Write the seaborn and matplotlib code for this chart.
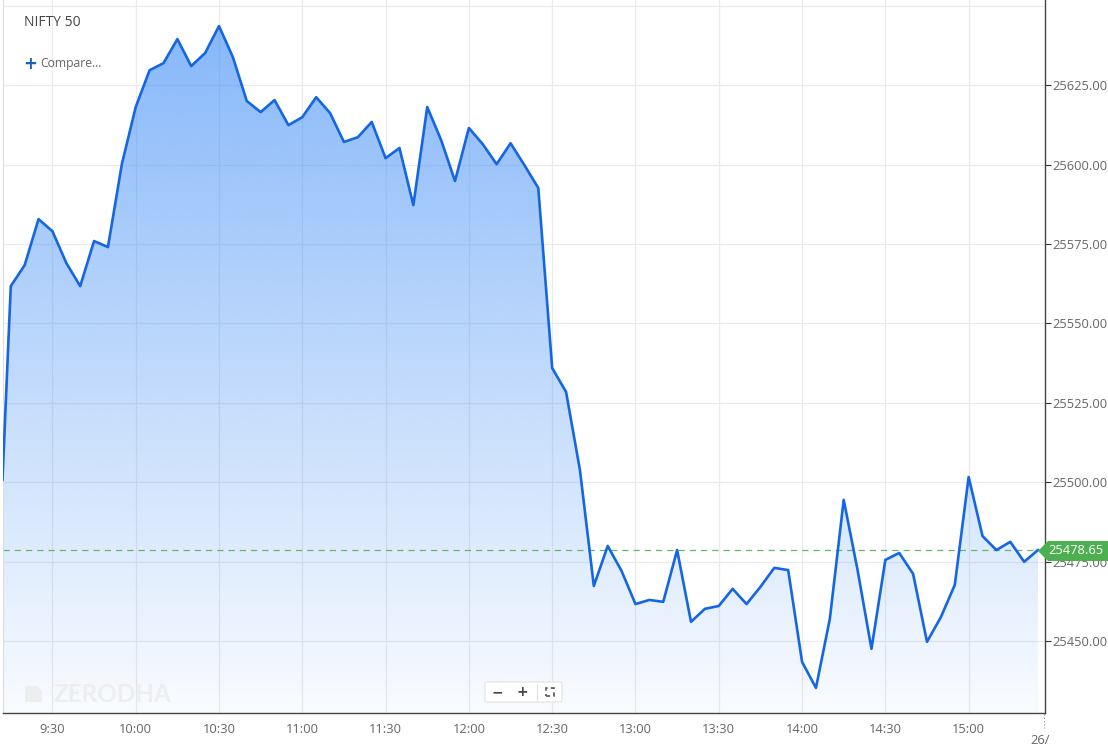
import numpy as np
import pandas as pd
import seaborn as sns
import matplotlib.pyplot as plt
from matplotlib.patches import Polygon, FancyBboxPatch

# NIFTY 50 intraday, 5-minute closes (first point = previous close, shown just before 9:15)
minutes = [-3] + list(range(0, 375, 5))  # minutes after 9:15
prices = [
    25500.5,
    25561.7, 25568.3, 25582.8, 25579.0, 25569.0, 25561.7, 25575.9, 25574.0, 25600.1, 25618.1,
    25629.7, 25631.9, 25639.5, 25631.0, 25635.1, 25643.6, 25633.8, 25620.0, 25616.5, 25620.3,
    25612.4, 25614.9, 25621.2, 25616.2, 25607.1, 25608.6, 25613.4, 25602.0, 25605.2, 25587.2,
    25618.1, 25607.7, 25594.8, 25611.5, 25606.4, 25600.1, 25606.7, 25599.8, 25592.6, 25535.9,
    25528.4, 25503.8, 25467.3, 25479.9, 25472.0, 25461.6, 25462.9, 25462.3, 25478.6, 25456.0,
    25460.1, 25461.0, 25466.4, 25461.6, 25467.0, 25473.0, 25472.3, 25443.4, 25435.2, 25456.9,
    25494.4, 25472.3, 25447.5, 25475.5, 25477.7, 25471.1, 25449.7, 25457.5, 25467.6, 25501.6,
    25483.0, 25478.6, 25481.2, 25474.9, 25478.65,
]
last_price = 25478.65
tick_minutes = [15, 45, 75, 105, 135, 165, 195, 225, 255, 285, 315, 345]
tick_labels = ["9:30", "10:00", "10:30", "11:00", "11:30", "12:00",
               "12:30", "13:00", "13:30", "14:00", "14:30", "15:00"]
price_ticks = [25450, 25475, 25500, 25525, 25550, 25575, 25600, 25625]

df = pd.DataFrame({"minute": minutes, "price": prices})

sns.set_style("white")
plt.rcParams["font.family"] = ["Open Sans", "DejaVu Sans"]

W, H = 1108, 749
fig = plt.figure(figsize=(W / 100, H / 100), dpi=100)
ax = fig.add_axes([3 / W, 1 - 713 / H, (1045 - 3) / W, 713 / H])

xmin, xmax = -2.8, 372.5
ymin, ymax = 25427.3, 25651.8
ax.set_xlim(xmin, xmax)
ax.set_ylim(ymin, ymax)

# grid
for t in tick_minutes:
    ax.axvline(t, color="#ebebeb", lw=0.9, zorder=0)
for p in price_ticks + [25650]:
    ax.axhline(p, color="#ebebeb", lw=0.9, zorder=0)

# gradient area under the line
fill = ax.fill_between(df["minute"], df["price"], ymin, color="none", lw=0)
grad = np.linspace(0.03, 0.62, 256).reshape(-1, 1)
rgba = np.zeros((256, 1, 4))
rgba[..., 0] = 0x3d / 255
rgba[..., 1] = 0x8c / 255
rgba[..., 2] = 0xf7 / 255
rgba[..., 3] = grad
img = ax.imshow(rgba, extent=[xmin, xmax, ymin, df["price"].max()], origin="lower",
                aspect="auto", zorder=1, interpolation="bilinear")
img.set_clip_path(fill.get_paths()[0], transform=ax.transData)

sns.lineplot(data=df, x="minute", y="price", color="#1466e3", lw=1.9, ax=ax, zorder=3)

# last price line
ax.axhline(last_price, color="#66b866", lw=0.9, ls=(0, (5, 4)), zorder=2)

# axes styling
ax.yaxis.tick_right()
ax.set_yticks(price_ticks)
ax.set_yticklabels([f"{p:.2f}" for p in price_ticks])
ax.set_xticks(tick_minutes)
ax.set_xticklabels(tick_labels)
ax.tick_params(axis="y", colors="#333333", labelcolor="#666666", labelsize=9.3,
               length=4, width=0.8, pad=1.5)
ax.tick_params(axis="x", colors="#333333", labelcolor="#666666", labelsize=9.3,
               length=5, width=0.8, pad=2.5)
ax.set_xlabel("")
ax.set_ylabel("")
ax.spines["top"].set_visible(False)
ax.spines["left"].set_color("#dddddd")
ax.spines["left"].set_linewidth(0.8)
for s in ["right", "bottom"]:
    ax.spines[s].set_color("#444444")
    ax.spines[s].set_linewidth(1.0)

# date marker at the right end of the time axis
fig.text(1030 / W, 1 - 741 / H, "26/", fontsize=9.3, color="#666666", va="center")
fig.add_artist(plt.Line2D([1044 / W, 1044 / W], [1 - 714 / H, 1 - 728 / H],
                          color="#888888", lw=0.8, ls=(0, (1, 2))))

# last price tag
tag = Polygon([[1038 / W, 1 - 551 / H], [1048 / W, 1 - 541 / H], [1108 / W, 1 - 541 / H],
               [1108 / W, 1 - 561 / H], [1048 / W, 1 - 561 / H]],
              closed=True, transform=fig.transFigure, fc="#4caf50", ec="none", zorder=10)
fig.add_artist(tag)
fig.text(1076 / W, 1 - 551 / H, f"{last_price:.2f}", color="white", fontsize=9.3,
         ha="center", va="center", zorder=11)

# title and compare link
fig.text(24 / W, 1 - 23 / H, "NIFTY 50", fontsize=10, color="#444444", va="center")
fig.text(23 / W, 1 - 64 / H, "+", fontsize=12, color="#1a5fc8", va="center",
         fontweight="bold", family="DejaVu Sans")
fig.text(40 / W, 1 - 64 / H, "Compare...", fontsize=8.7, color="#666666", va="center")

# watermark
fig.add_artist(Polygon([[25 / W, 1 - 686 / H], [37 / W, 1 - 686 / H], [42 / W, 1 - 691 / H],
                        [42 / W, 1 - 702 / H], [25 / W, 1 - 702 / H]],
                       closed=True, transform=fig.transFigure, fc="#eceef0", ec="none"))
fig.text(53 / W, 1 - 694 / H, "ZERODHA", fontsize=17.5, color="#eceef0", va="center",
         family="Lato", fontweight="bold")

# zoom controls
box = FancyBboxPatch((485 / W, 1 - 702 / H), 77 / W, 20 / H,
                     boxstyle="round,pad=0,rounding_size=0.002",
                     transform=fig.transFigure, fc="white", ec="#e2e2e2", lw=0.8, zorder=5)
fig.add_artist(box)
fig.text(497 / W, 1 - 692 / H, "−", fontsize=10, color="#444444", ha="center", va="center",
         fontweight="bold", family="DejaVu Sans", zorder=6)
fig.text(522 / W, 1 - 692 / H, "+", fontsize=10, color="#444444", ha="center", va="center",
         fontweight="bold", family="DejaVu Sans", zorder=6)
fig.add_artist(plt.Line2D([537 / W, 537 / W], [1 - 684 / H, 1 - 700 / H],
                          color="#e2e2e2", lw=0.8, zorder=6))
fig.add_artist(plt.Rectangle((546 / W, 1 - 696 / H), 8 / W, 8 / H, transform=fig.transFigure,
                             fill=False, ec="#555555", lw=1.2, ls=(0, (2.5, 2)), zorder=6))

fig.savefig("out.png", dpi=100)
